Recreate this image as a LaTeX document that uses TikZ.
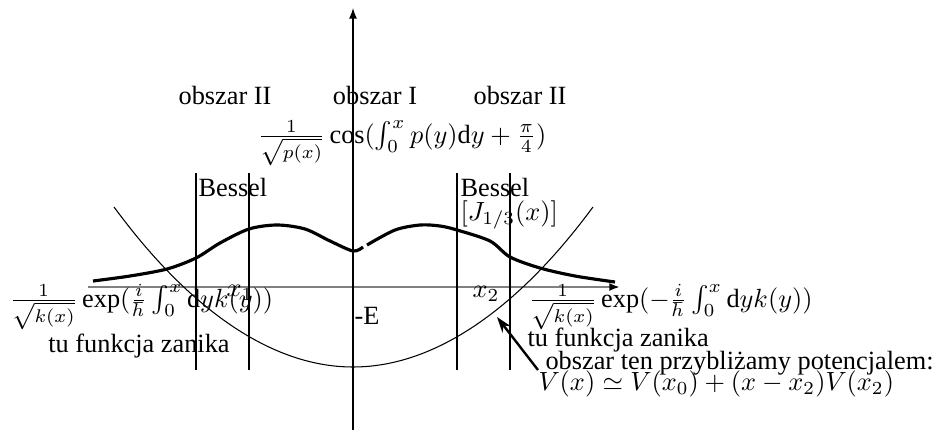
\documentclass[tikz,border=0pt]{standalone}
\usepackage{amsmath,amssymb}
\usepackage{fontspec}
\setmainfont{Liberation Serif}
\usetikzlibrary{positioning,arrows.meta}

\begin{document}
\begin{tikzpicture}[x=0.38pt, y=-0.38pt,
  axis/.style={line width=0.5pt, -{Latex[length=4pt, width=3pt]}},
  xaxis/.style={line width=0.8pt, draw=gray, -{Latex[black, length=4pt, width=3pt]}},
  border/.style={line width=1pt},
  wave/.style={line width=1.2pt},
  pot/.style={line width=0.4pt},
  label/.style={inner sep=0pt},
  pointer/.style={line width=0.9pt, -{Stealth[length=6pt, width=4pt]}}
]
  \useasboundingbox (0,0) rectangle (939,432);

  % Axes
  \draw[xaxis] (88,287) -- (620,287);
  \draw[axis] (353,430) -- (353,8);

  % Potential well
  \draw[pot] (114,207) parabola bend (353,367) (593,207);

  % Turning point regions
  \draw[border] (196,173) -- (196,370);
  \draw[border] (249,173) -- (249,370);
  \draw[border] (457,173) -- (457,370);
  \draw[border] (510,173) -- (510,370);

  % Wave function
  \draw[wave] plot[smooth] coordinates {(93,281) (130,276) (167,269) (196,258)
    (220,243) (249,229) (277,225) (305,229) (330,241) (353,251) (363,247)};
  \draw[wave] plot[smooth] coordinates {(367,245) (395,230) (420,225) (440,226)
    (457,230) (490,241) (510,257) (540,268) (575,276) (615,282)};

  % Region names
  \node[label] (regL) at (225,95) {obszar II};
  \node[label] (regC) at (375,95) {obszar I};
  \node[label] (regR) at (520,95) {obszar II};

  % Solution in region I
  \node[label] (cosine) at (402,143)
    {$\frac{1}{\sqrt{p(x)}}\cos(\int_0^x p(y)\mathrm{d}y+\frac{\pi}{4})$};

  % Bessel labels
  \node[label, anchor=west] (besL) at (198,187) {Bessel};
  \node[label, anchor=west] (besR) at (460,187) {Bessel};
  \node[label, anchor=west] (jfun) at (460,215) {$[J_{1/3}(x)]$};

  % Turning points and energy
  \node[label] (xone) at (240,293) {$x_1$};
  \node[label] (xtwo) at (486,294) {$x_2$};
  \node[label, anchor=west] (energy) at (354,316) {-E};

  % Decaying solutions
  \node[label, anchor=west] (expL) at (9,307)
    {$\frac{1}{\sqrt{k(x)}}\exp(\frac{i}{\hbar}\int_0^x\mathrm{d}yk(y))$};
  \node[label] (decL) at (139,346) {tu funkcja zanika};
  \node[label, anchor=west] (expR) at (528,307)
    {$\frac{1}{\sqrt{k(x)}}\exp(-\frac{i}{\hbar}\int_0^x\mathrm{d}yk(y))$};
  \node[label, anchor=west] (decR) at (527,340) {tu funkcja zanika};

  % Linear approximation note
  \node[label, anchor=west] (approx) at (545,363) {obszar ten przybliżamy potencjalem:};
  \node[label, anchor=west] (linear) at (538,384) {$V(x)\simeq V(x_0)+(x-x_2)V(x_2)$};

  \coordinate (tail) at (538,370);
  \coordinate (head) at (497,317);
  \draw[pointer] (tail) -- (head);
\end{tikzpicture}
\end{document}
